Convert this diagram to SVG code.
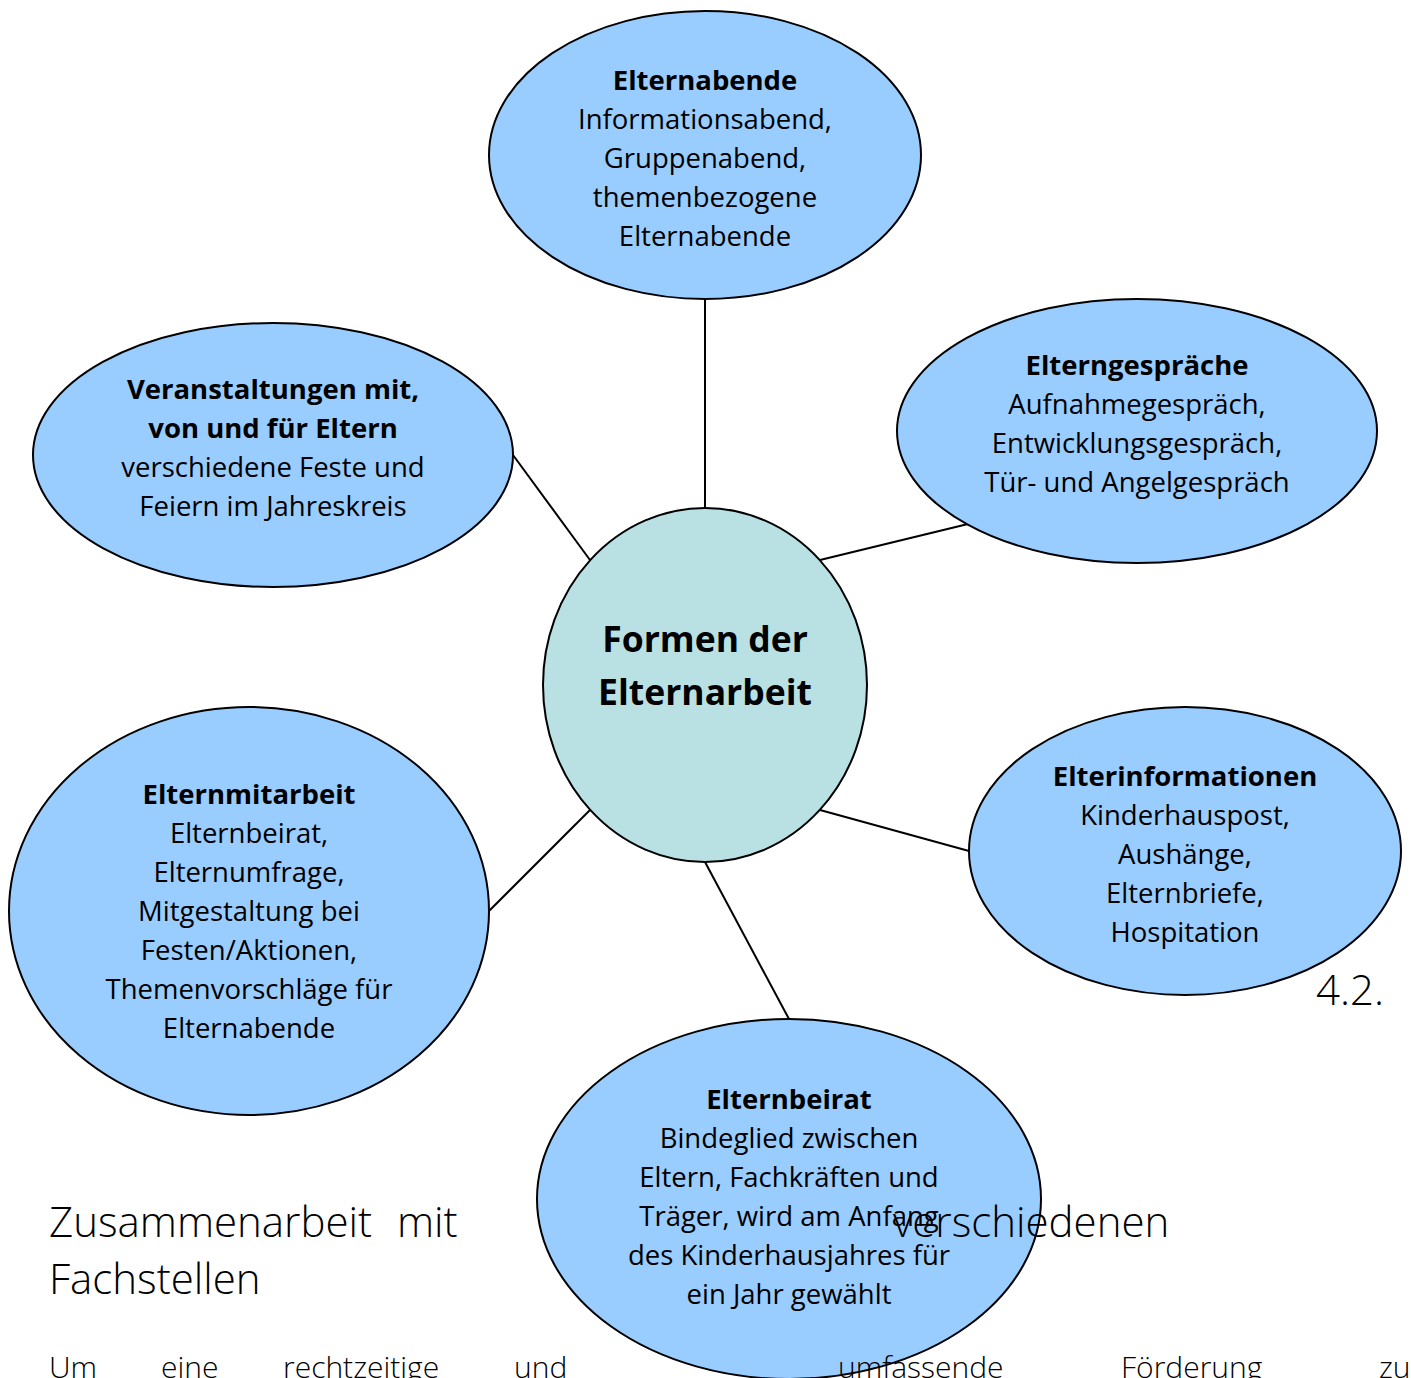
<svg xmlns="http://www.w3.org/2000/svg" width="1411" height="1378" viewBox="0 0 1411 1378">
<style>
.bg{fill:#ffffff}
.node{fill:#99ccff;stroke:#000000;stroke-width:2}
.core{fill:#b9e0e3;stroke:#000000;stroke-width:2}
.edge{stroke:#000000;stroke-width:2;fill:none}
.t{font-family:"Open Sans","Noto Sans","DejaVu Sans",sans-serif;font-size:27.5px;fill:#000000;text-anchor:middle}
.b{font-weight:bold}
.ct{font-family:"Open Sans","Noto Sans","DejaVu Sans",sans-serif;font-size:35.5px;font-weight:bold;fill:#000000;text-anchor:middle}
.h{font-family:"Open Sans","Lato","Noto Sans",sans-serif;font-weight:300;font-size:42px;fill:#000000}
.p{font-family:"Open Sans","Lato","Noto Sans",sans-serif;font-weight:300;font-size:30px;fill:#000000}
</style>
<rect class="bg" x="0" y="0" width="1411" height="1378"/>
<g id="connectors">
<line class="edge" x1="705" y1="299" x2="705" y2="508"/>
<line class="edge" x1="820" y1="560" x2="968" y2="524"/>
<line class="edge" x1="513" y1="455" x2="590" y2="560"/>
<line class="edge" x1="820" y1="810" x2="969" y2="851"/>
<line class="edge" x1="590" y1="810" x2="489" y2="911"/>
<line class="edge" x1="705" y1="862" x2="789" y2="1019"/>
</g>
<g id="center">
<ellipse class="core" cx="705" cy="685" rx="162" ry="177"/>
<text class="ct" x="705" y="652">Formen der</text>
<text class="ct" x="705" y="705">Elternarbeit</text>
</g>
<g id="elternabende">
<ellipse class="node" cx="705" cy="155" rx="216" ry="144"/>
<text class="t b" x="705" y="90">Elternabende</text>
<text class="t" x="705" y="129">Informationsabend,</text>
<text class="t" x="705" y="168">Gruppenabend,</text>
<text class="t" x="705" y="207">themenbezogene</text>
<text class="t" x="705" y="246">Elternabende</text>
</g>
<g id="elterngespraeche">
<ellipse class="node" cx="1137" cy="431" rx="240" ry="132"/>
<text class="t b" x="1137" y="375">Elterngespräche</text>
<text class="t" x="1137" y="414">Aufnahmegespräch,</text>
<text class="t" x="1137" y="453">Entwicklungsgespräch,</text>
<text class="t" x="1137" y="492">Tür- und Angelgespräch</text>
</g>
<g id="veranstaltungen">
<ellipse class="node" cx="273" cy="455" rx="240" ry="132"/>
<text class="t b" x="273" y="399">Veranstaltungen mit,</text>
<text class="t b" x="273" y="438">von und für Eltern</text>
<text class="t" x="273" y="477">verschiedene Feste und</text>
<text class="t" x="273" y="516">Feiern im Jahreskreis</text>
</g>
<g id="elterinformationen">
<ellipse class="node" cx="1185" cy="851" rx="216" ry="144"/>
<text class="t b" x="1185" y="786">Elterinformationen</text>
<text class="t" x="1185" y="825">Kinderhauspost,</text>
<text class="t" x="1185" y="864">Aushänge,</text>
<text class="t" x="1185" y="903">Elternbriefe,</text>
<text class="t" x="1185" y="942">Hospitation</text>
</g>
<g id="elternmitarbeit">
<ellipse class="node" cx="249" cy="911" rx="240" ry="204"/>
<text class="t b" x="249" y="804">Elternmitarbeit</text>
<text class="t" x="249" y="843">Elternbeirat,</text>
<text class="t" x="249" y="882">Elternumfrage,</text>
<text class="t" x="249" y="921">Mitgestaltung bei</text>
<text class="t" x="249" y="960">Festen/Aktionen,</text>
<text class="t" x="249" y="999">Themenvorschläge für</text>
<text class="t" x="249" y="1038">Elternabende</text>
</g>
<g id="elternbeirat">
<ellipse class="node" cx="789" cy="1199" rx="252" ry="180"/>
<text class="t b" x="789" y="1109">Elternbeirat</text>
<text class="t" x="789" y="1148">Bindeglied zwischen</text>
<text class="t" x="789" y="1187">Eltern, Fachkräften und</text>
<text class="t" x="789" y="1226">Träger, wird am Anfang</text>
<text class="t" x="789" y="1265">des Kinderhausjahres für</text>
<text class="t" x="789" y="1304">ein Jahr gewählt</text>
</g>
<g id="page-text">
<text class="h" x="1316" y="1005">4.2.</text>
<text class="h" x="49" y="1237">Zusammenarbeit</text>
<text class="h" x="397" y="1237">mit</text>
<text class="h" x="893" y="1237">verschiedenen</text>
<text class="h" x="49" y="1294">Fachstellen</text>
<text class="p" x="49" y="1378">Um</text>
<text class="p" x="161" y="1378">eine</text>
<text class="p" x="283" y="1378">rechtzeitige</text>
<text class="p" x="514" y="1378">und</text>
<text class="p" x="838" y="1378">umfassende</text>
<text class="p" x="1121" y="1378">Förderung</text>
<text class="p" x="1379" y="1378">zu</text>
</g>
</svg>
